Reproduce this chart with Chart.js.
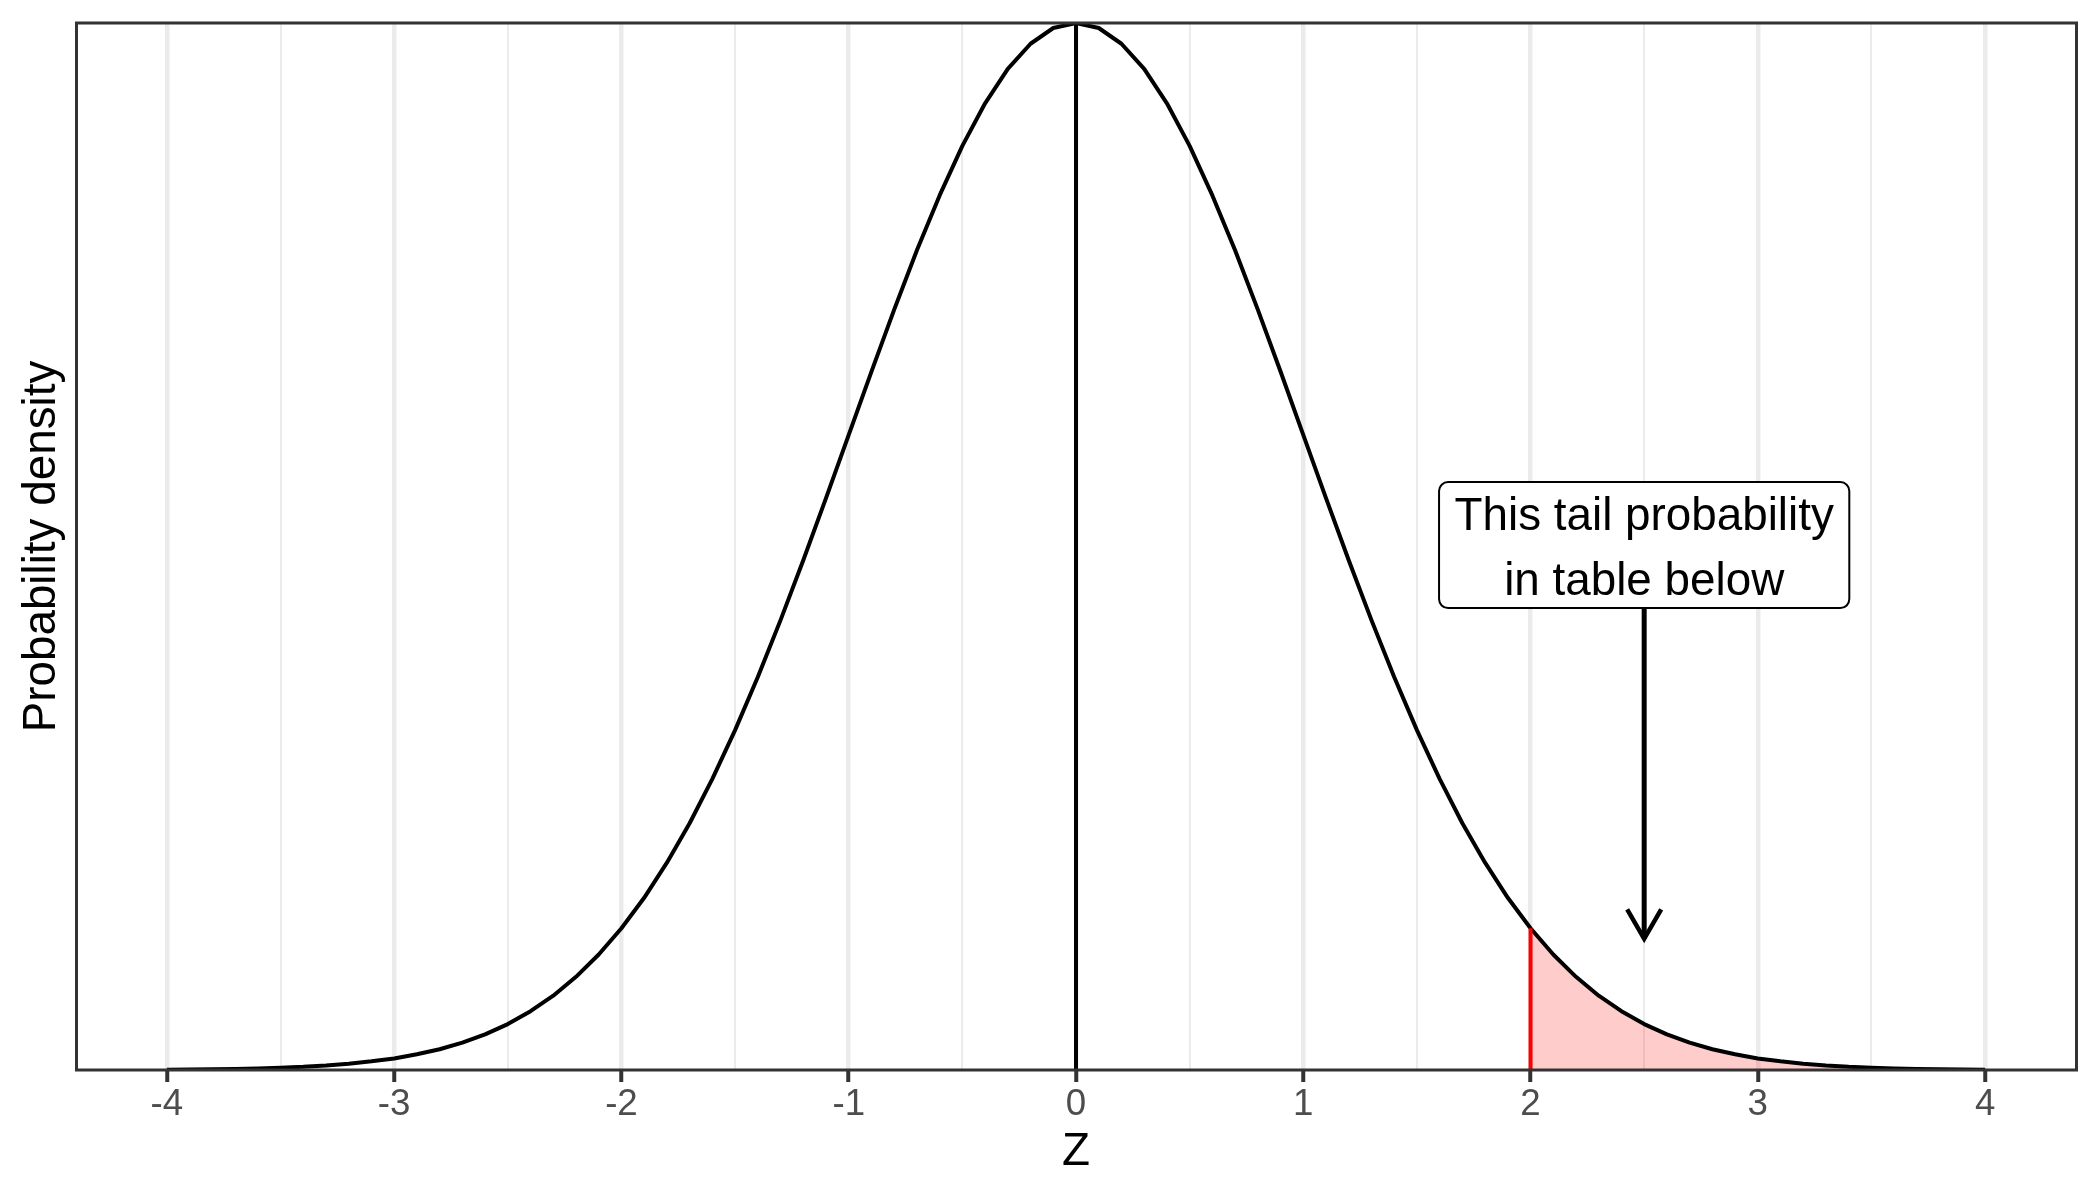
<!DOCTYPE html>
<html>
<head>
<meta charset="utf-8">
<script src="https://cdn.jsdelivr.net/npm/chart.js@4/dist/chart.umd.min.js"></script>
<style>
  html, body { margin: 0; padding: 0; background: #ffffff; }
  #wrap { width: 2100px; height: 1200px; }
</style>
</head>
<body>
<div id="wrap"><canvas id="c" width="2100" height="1200"></canvas></div>
<script>
// ---- data ----
const zValues = [
  -4.0,-3.9,-3.8,-3.7,-3.6,-3.5,-3.4,-3.3,-3.2,-3.1,
  -3.0,-2.9,-2.8,-2.7,-2.6,-2.5,-2.4,-2.3,-2.2,-2.1,
  -2.0,-1.9,-1.8,-1.7,-1.6,-1.5,-1.4,-1.3,-1.2,-1.1,
  -1.0,-0.9,-0.8,-0.7,-0.6,-0.5,-0.4,-0.3,-0.2,-0.1,
   0.0,
   0.1, 0.2, 0.3, 0.4, 0.5, 0.6, 0.7, 0.8, 0.9, 1.0,
   1.1, 1.2, 1.3, 1.4, 1.5, 1.6, 1.7, 1.8, 1.9, 2.0,
   2.1, 2.2, 2.3, 2.4, 2.5, 2.6, 2.7, 2.8, 2.9, 3.0,
   3.1, 3.2, 3.3, 3.4, 3.5, 3.6, 3.7, 3.8, 3.9, 4.0
];
const densityValues = [
  0.0001,0.0002,0.0003,0.0004,0.0006,0.0009,0.0012,0.0017,0.0024,0.0033,
  0.0044,0.0060,0.0079,0.0104,0.0136,0.0175,0.0224,0.0283,0.0355,0.0440,
  0.0540,0.0656,0.0790,0.0940,0.1109,0.1295,0.1497,0.1714,0.1942,0.2179,
  0.2420,0.2661,0.2897,0.3123,0.3332,0.3521,0.3683,0.3814,0.3910,0.3970,
  0.3989,
  0.3970,0.3910,0.3814,0.3683,0.3521,0.3332,0.3123,0.2897,0.2661,0.2420,
  0.2179,0.1942,0.1714,0.1497,0.1295,0.1109,0.0940,0.0790,0.0656,0.0540,
  0.0440,0.0355,0.0283,0.0224,0.0175,0.0136,0.0104,0.0079,0.0060,0.0044,
  0.0033,0.0024,0.0017,0.0012,0.0009,0.0006,0.0004,0.0003,0.0002,0.0001
];
const xTickValues = [-4,-3.5,-3,-2.5,-2,-1.5,-1,-0.5,0,0.5,1,1.5,2,2.5,3,3.5,4];
const xTickLabels = ['-4','','-3','','-2','','-1','','0','','1','','2','','3','','4'];
const meanZ = 0;
const cutoffZ = 2;
const labelZ = 2.5;
const labelDensity = 0.2;
const arrowEndDensity = 0.05;
const labelLines = ['This tail probability', 'in table below'];
const xRange = [-4.4, 4.4];
const yRange = [0, 0.3989];
const xTitle = 'Z';
const yTitle = 'Probability density';

// ---- derived datasets ----
const curvePts = zValues.map((z, i) => ({x: z, y: densityValues[i]}));
const tailPts = curvePts.filter(p => p.x >= cutoffZ);
const peakDensity = densityValues[zValues.indexOf(meanZ)];
const cutoffDensity = densityValues[zValues.indexOf(cutoffZ)];

const FONT = "'Liberation Sans', Arial, Helvetica, sans-serif";

const decorPlugin = {
  id: 'decor',
  beforeDraw(chart) {
    const ctx = chart.ctx;
    ctx.save();
    ctx.fillStyle = '#ffffff';
    ctx.fillRect(0, 0, chart.width, chart.height);
    ctx.restore();
  },
  afterDatasetsDraw(chart) {
    const ctx = chart.ctx;
    const xs = chart.scales.x, ys = chart.scales.y;
    const cx = xs.getPixelForValue(labelZ);
    const cy = ys.getPixelForValue(labelDensity);
    const tipY = ys.getPixelForValue(arrowEndDensity);
    ctx.save();
    ctx.font = '45.8px ' + FONT;
    const textW = Math.max(...labelLines.map(t => ctx.measureText(t).width));
    const padX = 15.5;
    const halfW = textW / 2 + padX;
    const top = cy - 63, bottom = cy + 63;
    // arrow shaft
    ctx.strokeStyle = '#000000';
    ctx.lineWidth = 5;
    ctx.lineCap = 'butt';
    ctx.beginPath();
    ctx.moveTo(cx, bottom);
    ctx.lineTo(cx, tipY);
    ctx.stroke();
    // arrow head (open)
    const L = 34, ang = 30 * Math.PI / 180;
    ctx.lineWidth = 4.5;
    ctx.lineJoin = 'miter';
    ctx.beginPath();
    ctx.moveTo(cx - L * Math.sin(ang), tipY - L * Math.cos(ang));
    ctx.lineTo(cx, tipY);
    ctx.lineTo(cx + L * Math.sin(ang), tipY - L * Math.cos(ang));
    ctx.stroke();
    // label box
    const r = 9;
    const lft = cx - halfW, rgt = cx + halfW;
    ctx.beginPath();
    ctx.moveTo(lft + r, top);
    ctx.lineTo(rgt - r, top);
    ctx.arcTo(rgt, top, rgt, top + r, r);
    ctx.lineTo(rgt, bottom - r);
    ctx.arcTo(rgt, bottom, rgt - r, bottom, r);
    ctx.lineTo(lft + r, bottom);
    ctx.arcTo(lft, bottom, lft, bottom - r, r);
    ctx.lineTo(lft, top + r);
    ctx.arcTo(lft, top, lft + r, top, r);
    ctx.closePath();
    ctx.fillStyle = '#ffffff';
    ctx.fill();
    ctx.lineWidth = 2;
    ctx.strokeStyle = '#000000';
    ctx.stroke();
    // label text
    ctx.fillStyle = '#000000';
    ctx.textAlign = 'center';
    ctx.textBaseline = 'alphabetic';
    ctx.fillText(labelLines[0], cx, cy - 15);
    ctx.fillText(labelLines[1], cx, cy + 50);
    ctx.restore();
  },
  afterDraw(chart) {
    const a = chart.chartArea;
    const ctx = chart.ctx;
    ctx.save();
    ctx.strokeStyle = '#333333';
    ctx.lineWidth = 3;
    ctx.strokeRect(a.left + 0.5, a.top, a.right - a.left, a.bottom - a.top);
    ctx.restore();
  }
};

new Chart(document.getElementById('c'), {
  type: 'line',
  data: {
    datasets: [
      { // shaded tail
        data: tailPts, fill: 'origin', backgroundColor: 'rgba(255,0,0,0.2)',
        borderWidth: 0, borderColor: 'rgba(0,0,0,0)', pointRadius: 0, order: 5
      },
      { // density curve
        data: curvePts, fill: false, borderColor: '#000000', borderWidth: 4,
        pointRadius: 0, tension: 0, order: 4
      },
      { // mean line
        data: [{x: meanZ, y: 0}, {x: meanZ, y: peakDensity}], fill: false,
        borderColor: '#000000', borderWidth: 4, pointRadius: 0, order: 3
      },
      { // cutoff line
        data: [{x: cutoffZ, y: 0}, {x: cutoffZ, y: cutoffDensity}], fill: false,
        borderColor: '#ff0000', borderWidth: 4, pointRadius: 0, order: 2
      }
    ]
  },
  options: {
    responsive: false,
    animation: false,
    devicePixelRatio: 1,
    layout: { padding: { top: 23, right: 24, left: 0, bottom: 0 } },
    plugins: { legend: { display: false }, tooltip: { enabled: false } },
    elements: { line: { borderCapStyle: 'butt', borderJoinStyle: 'round' } },
    scales: {
      x: {
        type: 'linear',
        min: xRange[0], max: xRange[1],
        afterBuildTicks: (s) => { s.ticks = xTickValues.map(v => ({value: v})); },
        afterFit: (s) => { s.height = 130; },
        border: { display: false },
        grid: {
          display: true,
          drawOnChartArea: true,
          drawTicks: true,
          tickLength: 12,
          color: '#ebebeb',
          lineWidth: (c) => (c.tick && Number.isInteger(c.tick.value)) ? 4.5 : 2,
          tickColor: (c) => (c.tick && Number.isInteger(c.tick.value)) ? '#333333' : 'rgba(0,0,0,0)',
          tickWidth: 4
        },
        ticks: {
          autoSkip: false, maxRotation: 0, minRotation: 0, padding: 1,
          color: '#4d4d4d',
          font: { family: FONT, size: 36.7 },
          callback: (v) => { const i = xTickValues.indexOf(v); return i >= 0 ? xTickLabels[i] : ''; }
        },
        title: {
          display: true, text: xTitle, color: '#000000',
          font: { family: FONT, size: 45.8 },
          padding: { top: 0, bottom: 20.5 }
        }
      },
      y: {
        type: 'linear',
        min: yRange[0], max: yRange[1],
        afterFit: (s) => { s.width = 76; },
        border: { display: false },
        grid: { display: false, drawTicks: false },
        ticks: { display: false },
        title: {
          display: true, text: yTitle, color: '#000000',
          font: { family: FONT, size: 45.8 },
          padding: { top: 14.5, bottom: 0 }
        }
      }
    }
  },
  plugins: [decorPlugin]
});
</script>
</body>
</html>
